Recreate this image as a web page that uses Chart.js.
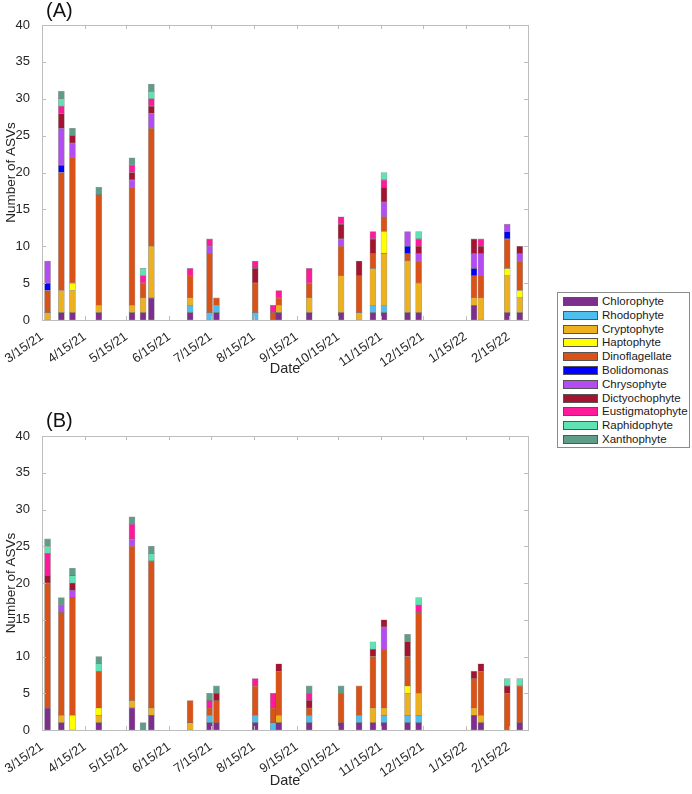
<!DOCTYPE html>
<html>
<head>
<meta charset="utf-8">
<script src="https://cdn.jsdelivr.net/npm/chart.js@4.4.0/dist/chart.umd.min.js"></script>
<style>
  html, body { margin: 0; padding: 0; background: #fff; }
  body { width: 692px; height: 794px; position: relative; overflow: hidden;
         font-family: "Liberation Sans", Arial, sans-serif; }
  .panel { position: absolute; left: 0; width: 540px; }
  #wrapA { top: 0; height: 382px; }
  #wrapB { top: 410px; height: 384px; }
  #legend { position: absolute; left: 557px; top: 292px; width: 133px; height: 156px;
            border: 1px solid #8c8c8c; box-sizing: border-box; padding-top: 2px; }
  .row { height: 13.8px; position: relative; font-size: 11.5px; color: #1a1a1a; }
  .sw { position: absolute; left: 5px; top: 2px; width: 35px; height: 9px;
        border: 1px solid #555; box-sizing: border-box; }
  .lb { position: absolute; left: 44px; top: 0; line-height: 13.8px; white-space: nowrap; }
</style>
</head>
<body>
<div class="panel" id="wrapA"><canvas id="chartA"></canvas></div>
<div class="panel" id="wrapB"><canvas id="chartB"></canvas></div>
<div id="legend"></div>
<script>
'use strict';

// ── Data ──────────────────────────────────────────────────────────────────────

const sampleDates = [
  '2021-03-19', '2021-03-29', '2021-04-06', '2021-04-25', '2021-05-19', '2021-05-27',
  '2021-06-02', '2021-06-30', '2021-07-14', '2021-07-19', '2021-08-16', '2021-08-29',
  '2021-09-02', '2021-09-24', '2021-10-17', '2021-10-30', '2021-11-09', '2021-11-17',
  '2021-12-04', '2021-12-12', '2022-01-21', '2022-01-26', '2022-02-14', '2022-02-23',
];

const tickDates = [
  '2021-03-15', '2021-04-15', '2021-05-15', '2021-06-15', '2021-07-15', '2021-08-15',
  '2021-09-15', '2021-10-15', '2021-11-15', '2021-12-15', '2022-01-15', '2022-02-15',
];

const groups = [
  'Chlorophyte', 'Rhodophyte', 'Cryptophyte', 'Haptophyte', 'Dinoflagellate', 'Bolidomonas',
  'Chrysophyte', 'Dictyochophyte', 'Eustigmatophyte', 'Raphidophyte', 'Xanthophyte',
];

// Panel (A) – ASV counts per group, one value per sample date
const chloroA  = [0, 1, 1, 1, 1, 1, 3, 1, 0, 1, 0, 0, 1, 1, 1, 0, 1, 1, 1, 1, 2, 0, 1, 1];
const rhodoA   = [0, 0, 0, 0, 0, 0, 0, 1, 1, 1, 1, 0, 0, 0, 0, 0, 1, 1, 0, 0, 0, 0, 0, 0];
const cryptoA  = [1, 3, 3, 1, 1, 2, 7, 1, 0, 0, 0, 0, 1, 2, 5, 1, 5, 7, 7, 4, 1, 3, 5, 2];
const haptoA   = [0, 0, 1, 0, 0, 0, 0, 0, 0, 0, 0, 0, 0, 0, 0, 0, 0, 3, 0, 0, 0, 0, 1, 1];
const dinoA    = [3, 16, 17, 15, 16, 2, 16, 3, 8, 1, 4, 1, 1, 2, 4, 5, 2, 2, 1, 3, 3, 3, 4, 4];
const bolidoA  = [1, 1, 0, 0, 0, 0, 0, 0, 0, 0, 0, 0, 0, 0, 0, 0, 0, 0, 1, 0, 1, 0, 1, 0];
const chrysoA  = [3, 5, 2, 0, 1, 0, 2, 0, 1, 0, 0, 0, 0, 0, 1, 0, 0, 2, 2, 1, 2, 3, 1, 1];
const dictyoA  = [0, 2, 1, 0, 1, 0, 1, 0, 0, 0, 2, 0, 0, 0, 2, 2, 2, 2, 0, 1, 2, 1, 0, 1];
const eustigA  = [0, 1, 0, 0, 1, 1, 1, 1, 1, 0, 1, 1, 1, 2, 1, 0, 1, 1, 0, 1, 0, 1, 0, 0];
const raphidoA = [0, 1, 0, 0, 0, 1, 1, 0, 0, 0, 0, 0, 0, 0, 0, 0, 0, 1, 0, 1, 0, 0, 0, 0];
const xanthoA  = [0, 1, 1, 1, 1, 0, 1, 0, 0, 0, 0, 0, 0, 0, 0, 0, 0, 0, 0, 0, 0, 0, 0, 0];

// Panel (B)
const chloroB  = [3, 1, 0, 1, 3, 0, 2, 0, 1, 1, 1, 0, 1, 1, 1, 1, 1, 1, 1, 1, 2, 1, 0, 1];
const rhodoB   = [0, 0, 0, 0, 0, 0, 0, 0, 1, 0, 1, 1, 0, 1, 0, 1, 0, 1, 1, 1, 0, 0, 0, 0];
const cryptoB  = [0, 1, 0, 1, 1, 0, 1, 1, 0, 0, 0, 0, 1, 0, 0, 0, 2, 1, 3, 3, 1, 1, 0, 0];
const haptoB   = [0, 0, 2, 1, 0, 0, 0, 0, 0, 0, 0, 0, 0, 0, 0, 0, 0, 0, 1, 0, 0, 0, 0, 0];
const dinoB    = [17, 14, 16, 5, 21, 0, 20, 3, 1, 3, 4, 2, 6, 1, 4, 4, 7, 8, 4, 11, 4, 6, 5, 5];
const bolidoB  = [0, 0, 0, 0, 0, 0, 0, 0, 0, 0, 0, 0, 0, 0, 0, 0, 0, 0, 0, 0, 0, 0, 0, 0];
const chrysoB  = [0, 1, 1, 0, 1, 0, 0, 0, 0, 0, 0, 0, 0, 0, 0, 0, 0, 3, 0, 0, 0, 0, 0, 0];
const dictyoB  = [1, 0, 1, 0, 0, 0, 0, 0, 0, 1, 0, 0, 1, 1, 0, 0, 1, 1, 2, 0, 1, 1, 1, 0];
const eustigB  = [3, 0, 0, 0, 2, 0, 0, 0, 1, 0, 1, 2, 0, 1, 0, 0, 0, 0, 0, 1, 0, 0, 0, 0];
const raphidoB = [1, 0, 1, 1, 0, 0, 1, 0, 0, 0, 0, 0, 0, 0, 0, 0, 1, 0, 0, 1, 0, 0, 1, 1];
const xanthoB  = [1, 1, 1, 1, 1, 1, 1, 0, 1, 1, 0, 0, 0, 1, 1, 0, 0, 0, 1, 0, 0, 0, 0, 0];

// ── Styles ────────────────────────────────────────────────────────────────────

const COLORS = [
  '#7e2f8e', '#4dbeee', '#edb120', '#ffff00', '#d95319', '#0000ff',
  '#b44cf4', '#a2142f', '#ff1a9c', '#5fe3b4', '#5e9e88',
];
const AXIS = '#bdbdbd';
const TEXT = '#262626';
const FONT = '"Liberation Sans", Arial, sans-serif';

Chart.defaults.font.family = FONT;
Chart.defaults.color = TEXT;

// ── Helpers ───────────────────────────────────────────────────────────────────

const T0 = Date.parse(tickDates[0]);
const dayOf = s => Math.round((Date.parse(s) - T0) / 86400000);
const tickDays = tickDates.map(dayOf);
const tickLabel = {};
tickDates.forEach(s => {
  const [y, m, d] = s.split('-');
  tickLabel[dayOf(s)] = `${+m}/${+d}/${y.slice(2)}`;
});
const X_MAX = dayOf('2022-03-01');

// axis box with inward ticks, like the original figure
const boxPlugin = {
  id: 'box',
  afterDraw(chart) {
    const { ctx, chartArea: a, scales: { x, y } } = chart;
    ctx.save();
    ctx.strokeStyle = AXIS;
    ctx.lineWidth = 1;
    ctx.strokeRect(a.left + 0.5, a.top + 0.5, a.right - a.left, a.bottom - a.top);
    ctx.beginPath();
    x.ticks.forEach(t => {
      const px = Math.round(x.getPixelForValue(t.value)) + 0.5;
      ctx.moveTo(px, a.bottom); ctx.lineTo(px, a.bottom - 4);
      ctx.moveTo(px, a.top); ctx.lineTo(px, a.top + 4);
    });
    y.ticks.forEach(t => {
      const py = Math.round(y.getPixelForValue(t.value)) + 0.5;
      ctx.moveTo(a.left, py); ctx.lineTo(a.left + 4, py);
      ctx.moveTo(a.right, py); ctx.lineTo(a.right - 4, py);
    });
    ctx.stroke();
    ctx.restore();
  },
};

function makePanel(canvasId, title, series, titleGap, xHeight) {
  const datasets = groups.map((name, i) => ({
    label: name,
    data: sampleDates
      .map((d, j) => ({ x: dayOf(d), y: series[i][j] }))
      .filter(p => p.y > 0),
    backgroundColor: COLORS[i],
    borderColor: 'rgba(40,40,40,0.45)',
    borderWidth: 0.6,
    borderSkipped: false,
    barThickness: 6,
  }));

  new Chart(document.getElementById(canvasId), {
    type: 'bar',
    data: { datasets },
    options: {
      responsive: true,
      maintainAspectRatio: false,
      animation: false,
      layout: { padding: { left: 0, right: 12, top: 0, bottom: 0 } },
      plugins: {
        legend: { display: false },
        tooltip: { enabled: false },
        title: {
          display: true,
          text: '\u2009' + title,
          align: 'start',
          fullSize: false,
          color: '#111',
          font: { size: 20, weight: 'normal', lineHeight: 1 },
          padding: { top: 1, bottom: titleGap },
        },
      },
      scales: {
        x: {
          type: 'linear',
          stacked: true,
          offset: false,
          min: 0,
          max: X_MAX,
          grid: { display: false, offset: false },
          border: { display: false },
          afterBuildTicks: scale => { scale.ticks = tickDays.map(v => ({ value: v })); },
          afterFit: scale => { scale.height = xHeight; },
          ticks: {
            autoSkip: false,
            minRotation: 35,
            maxRotation: 35,
            padding: 1,
            font: { size: 13 },
            callback: v => tickLabel[v] || '',
          },
          title: { display: true, text: 'Date', font: { size: 14.5 }, padding: { top: 0, bottom: 4 } },
        },
        y: {
          stacked: true,
          min: 0,
          max: 40,
          grid: { display: false },
          border: { display: false },
          afterFit: scale => { scale.width = 42; },
          ticks: { stepSize: 5, padding: 4, font: { size: 13 } },
          title: { display: true, text: 'Number of ASVs', font: { size: 13.5 }, padding: { top: 3, bottom: 0 } },
        },
      },
    },
    plugins: [boxPlugin],
  });
}

makePanel('chartA', '(A)',
  [chloroA, rhodoA, cryptoA, haptoA, dinoA, bolidoA, chrysoA, dictyoA, eustigA, raphidoA, xanthoA],
  4, 62);
makePanel('chartB', '(B)',
  [chloroB, rhodoB, cryptoB, haptoB, dinoB, bolidoB, chrysoB, dictyoB, eustigB, raphidoB, xanthoB],
  5, 64);

// ── Legend ────────────────────────────────────────────────────────────────────

const legendEl = document.getElementById('legend');
groups.forEach((name, i) => {
  const row = document.createElement('div');
  row.className = 'row';
  row.innerHTML = `<span class="sw" style="background:${COLORS[i]}"></span><span class="lb">${name}</span>`;
  legendEl.appendChild(row);
});
</script>
</body>
</html>
